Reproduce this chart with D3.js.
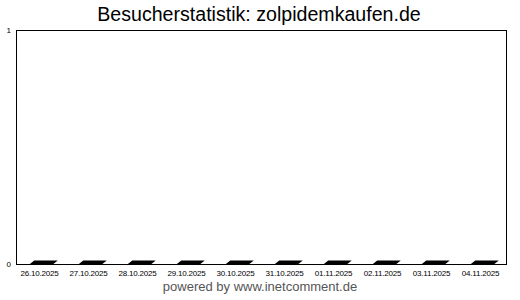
<!DOCTYPE html>
<html>
<head>
<meta charset="utf-8">
<script src="https://cdn.jsdelivr.net/npm/d3@7"></script>
<style>
body { margin: 0; background: #fff; }
svg { display: block; font-family: "Liberation Sans", Arial, sans-serif; }
</style>
</head>
<body>
<div id="chart"></div>
<script>
var dates = ['26.10.2025','27.10.2025','28.10.2025','29.10.2025','30.10.2025',
             '31.10.2025','01.11.2025','02.11.2025','03.11.2025','04.11.2025'];
var visitors = [0, 0, 0, 0, 0, 0, 0, 0, 0, 0];
var yTicks = [0, 1];

var W = 520, H = 300;
var margin = {top: 30, right: 14, bottom: 36, left: 16};
var w = W - margin.left - margin.right;
var h = H - margin.top - margin.bottom;

var svg = d3.select('#chart').append('svg')
    .attr('width', W)
    .attr('height', H);

svg.append('text')
    .attr('x', 259).attr('y', 21)
    .attr('text-anchor', 'middle')
    .style('font-size', '19.6px')
    .text('Besucherstatistik: zolpidemkaufen.de');

var g = svg.append('g').attr('transform', 'translate(' + margin.left + ',' + margin.top + ')');

var x = d3.scaleBand().domain(dates).range([0, w]).padding(0);
var y = d3.scaleLinear().domain([0, 1]).range([h, 0]);

// frame
g.append('rect')
    .attr('x', 0.5).attr('y', 0.5)
    .attr('width', w).attr('height', h)
    .attr('fill', 'none').attr('stroke', '#000').attr('stroke-width', 1);

// flat 3d bars (value 0 -> only the slanted top is visible)
var depth = 5, thick = 4;
g.selectAll('path.bar').data(visitors).enter().append('path')
    .attr('class', 'bar')
    .attr('d', function(d, i){
        var bw = x.bandwidth();
        var x0 = x(dates[i]) + bw * 0.27, x1 = x0 + bw * 0.48;
        var yb = h + 0.5, yt = Math.min(y(d), h) + 0.5 - thick;
        return 'M' + x0 + ',' + yb + 'L' + x1 + ',' + yb +
               'L' + (x1 + depth) + ',' + yt + 'L' + (x0 + depth) + ',' + yt + 'Z';
    })
    .attr('fill', '#000');

// x labels
g.selectAll('text.xl').data(dates).enter().append('text')
    .attr('class', 'xl')
    .attr('x', function(d){ return x(d) + x.bandwidth() / 2 - 1; })
    .attr('y', h + 12)
    .attr('text-anchor', 'middle')
    .style('font-size', '8px')
    .style('letter-spacing', '-0.2px')
    .text(function(d){ return d; });

// y labels
g.selectAll('text.yl').data(yTicks).enter().append('text')
    .attr('class', 'yl')
    .attr('x', -5)
    .attr('y', function(d){ return y(d) + 3; })
    .attr('text-anchor', 'end')
    .style('font-size', '8px')
    .text(function(d){ return d; });

svg.append('text')
    .attr('x', 260).attr('y', 291)
    .attr('text-anchor', 'middle')
    .style('font-size', '13px')
    .attr('fill', '#555')
    .text('powered by www.inetcomment.de');
</script>
</body>
</html>
